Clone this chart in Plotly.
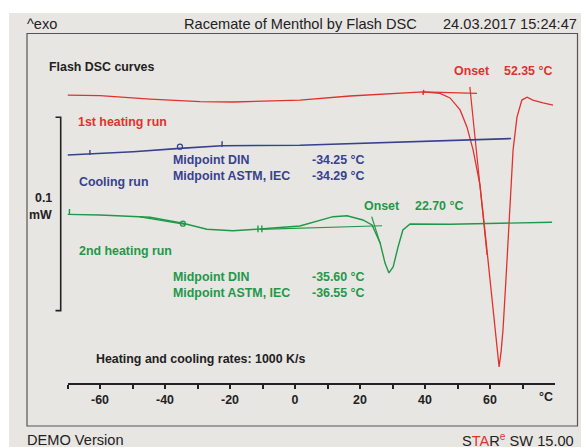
import plotly.graph_objects as go

# ---------------- data (temperature in °C, heat flow in mW, exo up) ----------------
red_T = [-70.0, -60.0, -44.6, -29.2, -19.1, 1.5, 16.9, 32.3, 39.4, 44.6, 47.7, 50.8, 52.9,
         54.8, 56.9, 58.2, 60.0, 61.5, 62.2, 62.8, 63.4, 64.0, 64.9, 65.8, 66.5, 67.1, 68.3,
         69.8, 71.4, 73.2, 76.3, 79.4]
red_mW = [0.1489, 0.1486, 0.1468, 0.1455, 0.1453, 0.1463, 0.1484, 0.1501, 0.1505, 0.1498,
          0.1474, 0.1412, 0.1324, 0.1205, 0.1024, 0.0827, 0.0533, 0.0274, 0.0160, 0.0083,
          0.0160, 0.0274, 0.0533, 0.0827, 0.1050, 0.1205, 0.1375, 0.1463, 0.1478, 0.1463,
          0.1448, 0.1437]

blue_T = [-70.0, -63.1, -49.8, -35.4, -22.5, 1.5, 32.3, 66.5]
blue_mW = [0.1179, 0.1184, 0.1196, 0.1213, 0.1227, 0.1229, 0.1244, 0.1264]

green_T = [-70.0, -60.0, -44.6, -34.5, -27.1, -19.1, -10.8, 1.5, 11.7, 16.0, 20.9, 23.7,
           26.2, 27.7, 28.9, 30.2, 31.7, 33.2, 35.4, 47.7, 63.1, 79.1]
green_mW = [0.0872, 0.0869, 0.0857, 0.0826, 0.0795, 0.0787, 0.0796, 0.0812, 0.0860, 0.0865,
            0.0843, 0.0817, 0.0724, 0.0620, 0.0569, 0.0600, 0.0703, 0.0791, 0.0822, 0.0821,
            0.0826, 0.0831]

# evaluation construction lines
red_base_T = [39.4, 56.0]
red_base_mW = [0.1505, 0.1498]
red_tan_T = [53.8, 59.1]
red_tan_mW = [0.1531, 0.0662]
red_mark_T = [39.4, 39.6]
red_mark_mW = [0.1490, 0.1516]

blue_mark1_T = [-63.1, -63.1]
blue_mark1_mW = [0.1179, 0.1205]
blue_mark2_T = [-22.5, -22.4]
blue_mark2_mW = [0.1220, 0.1250]
blue_tg_T = [-35.4]
blue_tg_mW = [0.1222]

green_base_T = [-10.8, 26.8]
green_base_mW = [0.0794, 0.0813]
green_tan_T = [23.6, 26.2]
green_tan_mW = [0.0860, 0.0722]
green_gl_T = [-47.7, -33.8]
green_gl_mW = [0.0859, 0.0820]
green_mark1_T = [-69.4, -69.4]
green_mark1_mW = [0.0869, 0.0900]
green_mark2_T = [-11.4, -11.4]
green_mark2_mW = [0.0780, 0.0815]
green_mark3_T = [-10.2, -10.2]
green_mark3_mW = [0.0780, 0.0815]
green_tg_T = [-34.5]
green_tg_mW = [0.0824]

major_ticks = [-60, -40, -20, 0, 20, 40, 60]
minor_ticks = [-70, -50, -30, -10, 10, 30, 50, 70]
scale_bar_mW = 0.1
scale_bar_base = 0.0374

RED = "#e0322d"
BLUE = "#36428e"
GREEN = "#1f9849"
DARK = "#222222"
FONT = "Liberation Sans, Arial, sans-serif"
BS = 12.4    # bold label size
HS = 14.6    # header / footer size

W, H = 581, 447

fig = go.Figure()


def line(x, y, color, width=1.3):
    fig.add_trace(go.Scatter(x=x, y=y, mode="lines", line=dict(color=color, width=width),
                             hoverinfo="skip", showlegend=False))


line(red_T, red_mW, RED, 1.3)
line(red_base_T, red_base_mW, RED, 1.3)
line(red_tan_T, red_tan_mW, RED, 1.2)
line(red_mark_T, red_mark_mW, RED, 1.5)
line(blue_T, blue_mW, BLUE, 1.6)
line(blue_mark1_T, blue_mark1_mW, BLUE, 1.4)
line(blue_mark2_T, blue_mark2_mW, BLUE, 1.4)
line(green_T, green_mW, GREEN, 1.4)
line(green_base_T, green_base_mW, GREEN, 1.2)
line(green_tan_T, green_tan_mW, GREEN, 1.2)
line(green_gl_T, green_gl_mW, GREEN, 1.2)
line(green_mark1_T, green_mark1_mW, GREEN, 1.4)
line(green_mark2_T, green_mark2_mW, GREEN, 1.4)
line(green_mark3_T, green_mark3_mW, GREEN, 1.4)
fig.add_trace(go.Scatter(x=blue_tg_T, y=blue_tg_mW, mode="markers",
                         marker=dict(symbol="circle-open", size=5, color=BLUE, line=dict(width=1.3)),
                         hoverinfo="skip", showlegend=False))
fig.add_trace(go.Scatter(x=green_tg_T, y=green_tg_mW, mode="markers",
                         marker=dict(symbol="circle-open", size=5, color=GREEN, line=dict(width=1.3)),
                         hoverinfo="skip", showlegend=False))


def px(x):
    return x / W


def py(y):
    return 1 - y / H


shapes = [
    dict(type="rect", xref="paper", yref="paper", x0=px(9), x1=1, y0=0, y1=py(13),
         fillcolor="#e8e6e3", line=dict(width=0), layer="below"),
    dict(type="rect", xref="paper", yref="paper", x0=px(27), x1=px(577.5), y0=py(426), y1=py(33.5),
         line=dict(color="#555555", width=1.2), layer="below"),
    dict(type="path", xref="paper", yref="y",
         path=f"M {px(55.5)},{scale_bar_base} L {px(60.7)},{scale_bar_base} "
              f"L {px(60.7)},{scale_bar_base + scale_bar_mW} L {px(55.5)},{scale_bar_base + scale_bar_mW}",
         line=dict(color=DARK, width=1.6)),
]


def ann(text, x, y, color=DARK, size=BS, bold=True, anchor="left"):
    t = f"<b>{text}</b>" if bold else text
    return dict(text=t, x=px(x), y=py(y), xref="paper", yref="paper", xanchor=anchor,
                yanchor="middle", showarrow=False, font=dict(family=FONT, size=size, color=color),
                borderpad=0)


annotations = [
    ann("^exo", 26, 24, size=HS, bold=False),
    ann("Racemate of Menthol by Flash DSC", 183, 23.5, size=HS, bold=False),
    ann("24.03.2017 15:24:47", 577.5, 23.5, size=HS, bold=False, anchor="right"),
    ann("Flash DSC curves", 48, 67),
    ann("Onset", 453, 71, RED),
    ann("52.35 °C", 503, 71, RED),
    ann("1st heating run", 77, 121.5, RED),
    ann("Midpoint DIN", 172, 160, BLUE),
    ann("Midpoint ASTM, IEC", 172, 176.5, BLUE),
    ann("-34.25 °C", 310.5, 160, BLUE),
    ann("-34.29 °C", 310.5, 176.5, BLUE),
    ann("Cooling run", 78, 181.5, BLUE),
    ann("0.1", 53, 198, DARK, anchor="right"),
    ann("mW", 53, 215, DARK, anchor="right"),
    ann("Onset", 363, 206, GREEN),
    ann("22.70 °C", 414, 206, GREEN),
    ann("2nd heating run", 78, 251, GREEN),
    ann("Midpoint DIN", 172, 277, GREEN),
    ann("Midpoint ASTM, IEC", 172, 292.5, GREEN),
    ann("-35.60 °C", 310.5, 277, GREEN),
    ann("-36.55 °C", 310.5, 292.5, GREEN),
    ann("Heating and cooling rates: 1000 K/s", 95, 359),
    ann("°C", 546, 397, anchor="center"),
    ann("DEMO Version", 26, 440, size=HS, bold=False),
    ann(f"S<span style='color:{RED}'>TA</span>R<sup><span style='color:{RED}'>e</span></sup> SW 15.00",
        575, 440, size=HS, bold=False, anchor="right"),
]

y_top = 383 / 1934.0  # mW value at the top of the figure (axis at 0)

fig.update_layout(
    width=W, height=H, autosize=False,
    margin=dict(l=0, r=0, t=0, b=0, pad=0),
    paper_bgcolor="white", plot_bgcolor="rgba(0,0,0,0)",
    showlegend=False,
    shapes=shapes, annotations=annotations,
    xaxis=dict(domain=[67.5 / W, 555 / W], range=[-70, 80], showgrid=False, zeroline=False,
               showline=True, linecolor=DARK, linewidth=1.6,
               tickmode="array", tickvals=major_ticks, ticktext=[str(v) for v in major_ticks],
               ticks="outside", ticklen=4, tickwidth=1.5, tickcolor=DARK,
               tickfont=dict(family=FONT, size=BS, color=DARK, weight="bold"),
               minor=dict(tickmode="array", tickvals=minor_ticks, ticks="outside", ticklen=4,
                          tickwidth=1.5, tickcolor=DARK, showgrid=False),
               fixedrange=True),
    yaxis=dict(domain=[(H - 383) / H, 1], range=[0, y_top], visible=False, showgrid=False,
               zeroline=False, fixedrange=True),
)

fig.write_html("out.html", config={"displayModeBar": False},
               post_script="document.body.style.margin='0';document.body.style.overflow='hidden';")
